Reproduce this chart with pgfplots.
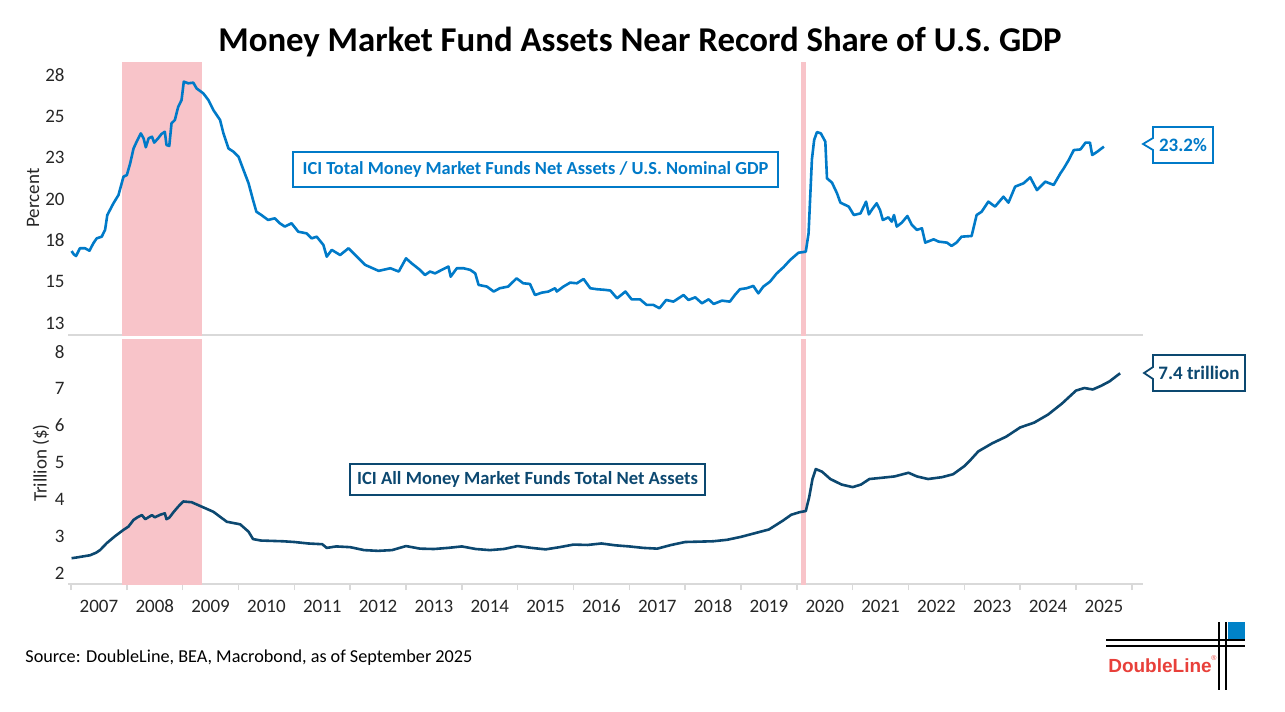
\documentclass[border=0pt]{standalone}
\usepackage{pgfplots}
\pgfplotsset{compat=1.18}
\usepackage{fontspec}
\setmainfont{Carlito}
\newfontfamily\logofont{Liberation Sans}
\definecolor{topblue}{RGB}{0,122,200}
\definecolor{navy}{RGB}{12,72,112}
\definecolor{recess}{RGB}{248,196,201}
\definecolor{sepgray}{RGB}{217,217,217}
\definecolor{logored}{RGB}{232,64,58}
\definecolor{logoblue}{RGB}{0,130,200}

\pgfplotsset{
  common/.style={
    scale only axis, width=537.5pt,
    xmin=2006.946, xmax=2026.20,
    axis x line*=bottom, axis y line*=left,
    y axis line style={draw=none},
    x axis line style={draw=sepgray, line width=0.8pt},
    ytick style={draw=none},
    major tick length=0pt,
    tick label style={font=\fontsize{9.5}{11}\selectfont, text=black!85},
    yticklabel style={anchor=east, inner sep=1.5pt},
    clip=true,
  }
}

\begin{document}
\begin{tikzpicture}
\path[use as bounding box] (0,0) rectangle (642.5pt,-356pt);

% top panel
\begin{axis}[common, at={(34pt,-167.5pt)}, anchor=south west, height=136.5pt,
  ymin=11.77, ymax=28.29,
  xtick=\empty,
  ytick={12.5,15,17.5,20,22.5,25,27.5},
  yticklabels={13,15,18,20,23,25,28},
]
\addplot[fill=recess, draw=none] coordinates {(2007.91,0) (2007.91,40) (2009.34,40) (2009.34,0)} -- cycle;
\addplot[fill=recess, draw=none] coordinates {(2020.075,0) (2020.075,40) (2020.16,40) (2020.16,0)} -- cycle;
\addplot[topblue, line width=1.3pt, line join=round] coordinates {
(2007.01,16.85) (2007.05,16.65) (2007.09,16.55) (2007.16,17.02) (2007.25,17.02) (2007.33,16.87) (2007.40,17.32) (2007.46,17.62) (2007.55,17.72) (2007.61,18.13) (2007.65,19.03) (2007.76,19.74) (2007.85,20.24) (2007.94,21.35) (2008.00,21.45) (2008.06,22.16) (2008.12,23.06) (2008.19,23.57) (2008.25,23.97) (2008.30,23.67) (2008.34,23.13) (2008.39,23.67) (2008.45,23.77) (2008.49,23.41) (2008.56,23.67) (2008.62,23.93) (2008.68,24.07) (2008.71,23.27) (2008.76,23.21) (2008.80,24.58) (2008.86,24.78) (2008.92,25.58) (2008.98,25.99) (2009.02,27.10) (2009.10,27.00) (2009.19,27.04) (2009.25,26.69) (2009.37,26.39) (2009.46,25.99) (2009.55,25.38) (2009.67,24.78) (2009.73,23.97) (2009.82,23.06) (2009.91,22.86) (2010.00,22.56) (2010.09,21.75) (2010.18,20.95) (2010.26,19.94) (2010.32,19.23) (2010.41,19.03) (2010.53,18.73) (2010.65,18.83) (2010.74,18.53) (2010.83,18.33) (2010.95,18.53) (2011.07,18.02) (2011.22,17.92) (2011.31,17.62) (2011.40,17.72) (2011.52,17.22) (2011.58,16.51) (2011.67,16.92) (2011.82,16.61) (2011.97,17.02) (2012.12,16.51) (2012.27,16.01) (2012.51,15.65) (2012.72,15.81) (2012.87,15.61) (2013.00,16.41) (2013.10,16.11) (2013.25,15.71) (2013.34,15.40) (2013.43,15.61) (2013.52,15.50) (2013.64,15.71) (2013.76,15.91) (2013.80,15.30) (2013.91,15.81) (2014.03,15.81) (2014.15,15.71) (2014.24,15.50) (2014.30,14.80) (2014.45,14.70) (2014.57,14.40) (2014.68,14.60) (2014.83,14.70) (2014.98,15.20) (2015.10,14.90) (2015.22,14.86) (2015.31,14.19) (2015.43,14.33) (2015.55,14.40) (2015.67,14.60) (2015.70,14.40) (2015.82,14.70) (2015.94,14.94) (2016.06,14.90) (2016.18,15.16) (2016.30,14.60) (2016.42,14.54) (2016.57,14.50) (2016.66,14.46) (2016.78,13.99) (2016.93,14.40) (2017.04,13.93) (2017.19,13.93) (2017.31,13.59) (2017.43,13.59) (2017.54,13.39) (2017.66,13.89) (2017.79,13.79) (2017.97,14.19) (2018.06,13.89) (2018.18,14.05) (2018.30,13.69) (2018.42,13.93) (2018.51,13.65) (2018.66,13.85) (2018.80,13.79) (2018.89,14.19) (2018.98,14.54) (2019.10,14.60) (2019.22,14.74) (2019.31,14.29) (2019.40,14.70) (2019.52,15.00) (2019.64,15.50) (2019.76,15.87) (2019.88,16.31) (2020.03,16.75) (2020.16,16.81) (2020.21,17.92) (2020.27,22.40) (2020.31,23.57) (2020.36,24.05) (2020.43,23.97) (2020.51,23.47) (2020.54,21.25) (2020.63,20.99) (2020.72,20.34) (2020.78,19.78) (2020.93,19.54) (2021.02,19.03) (2021.14,19.13) (2021.24,19.84) (2021.29,19.07) (2021.35,19.38) (2021.43,19.74) (2021.49,19.33) (2021.54,18.73) (2021.64,18.89) (2021.70,18.63) (2021.74,19.03) (2021.79,18.33) (2021.88,18.57) (2021.98,18.97) (2022.06,18.43) (2022.15,18.13) (2022.24,18.23) (2022.30,17.36) (2022.45,17.56) (2022.54,17.42) (2022.69,17.36) (2022.77,17.16) (2022.86,17.36) (2022.95,17.72) (2023.13,17.76) (2023.22,19.03) (2023.31,19.23) (2023.43,19.84) (2023.55,19.54) (2023.70,20.14) (2023.79,19.78) (2023.91,20.75) (2024.06,20.95) (2024.18,21.31) (2024.30,20.54) (2024.45,21.05) (2024.60,20.85) (2024.72,21.55) (2024.78,21.85) (2024.87,22.36) (2024.96,22.96) (2025.08,23.00) (2025.17,23.41) (2025.25,23.41) (2025.29,22.66) (2025.38,22.86) (2025.50,23.17)
};
\end{axis}

% bottom panel
\begin{axis}[common, at={(34pt,-292pt)}, anchor=south west, height=122.5pt,
  ymin=1.70, ymax=8.35,
  ytick={2,3,4,5,6,7,8},
  yticklabels={2,3,4,5,6,7,8},
  xtick={2007.5,2008.5,2009.5,2010.5,2011.5,2012.5,2013.5,2014.5,2015.5,2016.5,2017.5,2018.5,2019.5,2020.5,2021.5,2022.5,2023.5,2024.5,2025.5},
  xticklabels={2007,2008,2009,2010,2011,2012,2013,2014,2015,2016,2017,2018,2019,2020,2021,2022,2023,2024,2025},
  major x tick style={draw=none},
  minor xtick={2007,2008,2009,2010,2011,2012,2013,2014,2015,2016,2017,2018,2019,2020,2021,2022,2023,2024,2025,2026},
  minor x tick style={draw=sepgray, line width=0.8pt},
  minor tick length=3pt, tick align=outside,
  xticklabel style={anchor=base, yshift=-14pt},
]
\addplot[fill=recess, draw=none] coordinates {(2007.91,0) (2007.91,10) (2009.34,10) (2009.34,0)} -- cycle;
\addplot[fill=recess, draw=none] coordinates {(2020.075,0) (2020.075,10) (2020.16,10) (2020.16,0)} -- cycle;
\addplot[navy, line width=1.3pt, line join=round] coordinates {
(2007.01,2.40) (2007.10,2.42) (2007.22,2.45) (2007.34,2.48) (2007.45,2.55) (2007.52,2.62) (2007.64,2.81) (2007.79,3.00) (2007.94,3.17) (2008.03,3.26) (2008.12,3.44) (2008.20,3.52) (2008.27,3.57) (2008.33,3.46) (2008.45,3.57) (2008.50,3.51) (2008.60,3.58) (2008.68,3.62) (2008.71,3.46) (2008.76,3.50) (2008.83,3.64) (2008.92,3.80) (2009.01,3.94) (2009.16,3.92) (2009.31,3.82) (2009.55,3.66) (2009.79,3.39) (2010.03,3.32) (2010.18,3.12) (2010.26,2.92) (2010.40,2.88) (2010.60,2.87) (2010.80,2.86) (2011.00,2.84) (2011.25,2.80) (2011.50,2.78) (2011.58,2.68) (2011.75,2.72) (2012.00,2.70) (2012.25,2.62) (2012.50,2.60) (2012.75,2.62) (2013.00,2.73) (2013.25,2.66) (2013.50,2.65) (2013.75,2.68) (2014.00,2.72) (2014.25,2.65) (2014.50,2.62) (2014.75,2.65) (2015.00,2.73) (2015.25,2.68) (2015.50,2.64) (2015.75,2.70) (2016.00,2.77) (2016.25,2.76) (2016.50,2.80) (2016.75,2.75) (2017.00,2.72) (2017.25,2.68) (2017.50,2.66) (2017.75,2.76) (2018.00,2.84) (2018.25,2.85) (2018.50,2.86) (2018.75,2.90) (2019.00,2.98) (2019.25,3.08) (2019.50,3.18) (2019.75,3.42) (2019.90,3.58) (2020.05,3.65) (2020.16,3.68) (2020.22,4.05) (2020.28,4.55) (2020.34,4.82) (2020.45,4.75) (2020.60,4.55) (2020.80,4.40) (2021.00,4.33) (2021.15,4.40) (2021.30,4.55) (2021.50,4.58) (2021.75,4.62) (2022.00,4.72) (2022.15,4.62) (2022.35,4.55) (2022.60,4.60) (2022.80,4.68) (2023.00,4.90) (2023.10,5.05) (2023.25,5.30) (2023.50,5.52) (2023.75,5.70) (2024.00,5.95) (2024.25,6.08) (2024.50,6.30) (2024.75,6.60) (2025.00,6.95) (2025.15,7.02) (2025.30,6.98) (2025.45,7.08) (2025.60,7.20) (2025.79,7.42)
};
\end{axis}

\begin{scope}[x=0.5pt, y=-0.5pt]
% title
\node[font=\fontsize{17.4}{20}\selectfont\bfseries] at (640,42) {Money Market Fund Assets Near Record Share of U.S. GDP};
% axis titles
\node[rotate=90, font=\fontsize{9.5}{11}\selectfont, text=black!85] at (33,198) {Percent};
\node[rotate=90, font=\fontsize{9.5}{11}\selectfont, text=black!85] at (41,463) {Trillion (\$)};
% series labels
\node[draw=topblue, line width=0.9pt, text=topblue, font=\fontsize{9.2}{11}\selectfont\bfseries,
  minimum width=242.5pt, minimum height=17.5pt, inner sep=0pt] at (535.5,169.5)
  {ICI Total Money Market Funds Net Assets / U.S. Nominal GDP};
\node[draw=navy, line width=0.9pt, text=navy, font=\fontsize{9.3}{11}\selectfont\bfseries,
  minimum width=177.5pt, minimum height=15.5pt, inner sep=0pt] at (527.5,479.5)
  {ICI All Money Market Funds Total Net Assets};
% callouts
\draw[topblue, line width=0.9pt, fill=white] (1153,127) -- (1213,127) -- (1213,163) -- (1153,163) -- (1153,150) -- (1143,144) -- (1153,138) -- cycle;
\node[text=topblue, font=\fontsize{9.5}{11}\selectfont\bfseries] at (1183,145) {23.2\%};
\draw[navy, line width=0.9pt, fill=white] (1153,355) -- (1245,355) -- (1245,391) -- (1153,391) -- (1153,379) -- (1144,373) -- (1153,367) -- cycle;
\node[text=navy, font=\fontsize{9.5}{11}\selectfont\bfseries] at (1199,373) {7.4 trillion};
% source
\node[anchor=west, font=\fontsize{9.1}{11}\selectfont, inner sep=0pt] at (25,658) {Source: DoubleLine, BEA, Macrobond, as of September 2025};
% logo
\fill[logoblue] (1228,622) rectangle (1245,639);
\draw[black, line width=1pt] (1106,640) -- (1245,640);
\draw[black, line width=1pt] (1106,646) -- (1245,646);
\draw[black, line width=1pt] (1219,622) -- (1219,690);
\draw[black, line width=1pt] (1226,622) -- (1226,690);
\node[text=logored, font=\logofont\fontsize{9.5}{11}\selectfont\bfseries, inner sep=0pt] at (1160,666) {DoubleLine};
\node[text=logored, font=\logofont\fontsize{3.5}{4}\selectfont] at (1214,658) {\textregistered};
\end{scope}
\end{tikzpicture}
\end{document}
